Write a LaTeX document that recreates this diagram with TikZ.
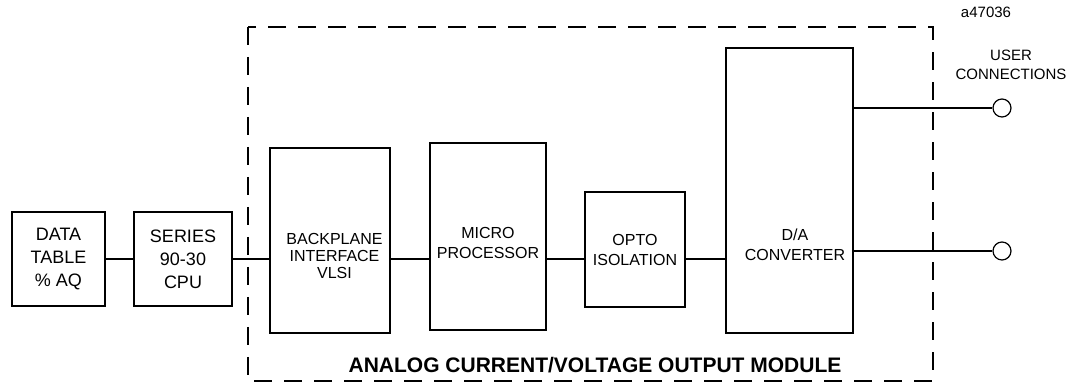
\documentclass[tikz,border=0pt]{standalone}
\usepackage{fontspec}
\setmainfont{Liberation Sans}
\usetikzlibrary{positioning}

\begin{document}
\begin{tikzpicture}[x=0.5pt, y=-0.5pt, line width=0.6pt,
		blk/.style={draw, align=center, inner sep=0pt, font=\fontsize{9}{11.5}\selectfont},
		txt/.style={align=center, inner sep=0pt, font=\fontsize{8}{10}\selectfont},
		term/.style={draw, circle, minimum size=9pt, inner sep=0pt},
		frame/.style={dash pattern=on 9pt off 6pt},
		note/.style={align=center, inner sep=0pt, font=\fontsize{7.5}{9.5}\selectfont}]
	\useasboundingbox (0,0) rectangle (1077,383);
	\draw[frame] (248,27) rectangle (933,381);
	\node[blk, minimum width=46.5pt, minimum height=47pt] (data) at (58.5,259) {DATA\\TABLE\\\% AQ};
	\node[blk, minimum width=49pt, minimum height=47pt] (cpu) at (183,259) {SERIES\\90-30\\CPU};
	\node[blk, minimum width=60pt, minimum height=92.5pt] (bus) at (330,240.5) {};
	\node[blk, minimum width=58pt, minimum height=93.5pt] (micro) at (488,236.5) {};
	\node[blk, txt, minimum width=50pt, minimum height=57.5pt] (opto) at (635,249.5) {OPTO\\ISOLATION};
	\node[blk, minimum width=63.5pt, minimum height=142.5pt] (dac) at (789.5,190.5) {};
	\node[txt, font=\fontsize{8}{8.3}\selectfont] (bus-lbl) at (334.5,256) {BACKPLANE\\INTERFACE\\VLSI};
	\node[txt] (micro-lbl) at (488,243) {MICRO\\PROCESSOR};
	\node[txt] (dac-lbl) at (795,245) {D/A\\CONVERTER};
	\node[term] (term1) at (1002,108) {};
	\node[term] (term2) at (1002,251) {};
	\node[note] (users) at (1011,65) {USER\\CONNECTIONS};
	\node[note] (fig-id) at (986,12) {a47036};
	\node[inner sep=0pt, font=\fontsize{10.5}{12}\selectfont\bfseries] (title) at (595,365) {ANALOG CURRENT/VOLTAGE OUTPUT MODULE};
	\draw (data) -- (cpu);
	\draw (cpu) -- (cpu -| bus.west);
	\draw (cpu -| bus.east) -- (cpu -| micro.west);
	\draw (cpu -| micro.east) -- (cpu -| opto.west);
	\draw (cpu -| opto.east) -- (cpu -| dac.west);
	\draw (term1 -| dac.east) -- (term1);
	\draw (term2 -| dac.east) -- (term2);
\end{tikzpicture}
\end{document}
